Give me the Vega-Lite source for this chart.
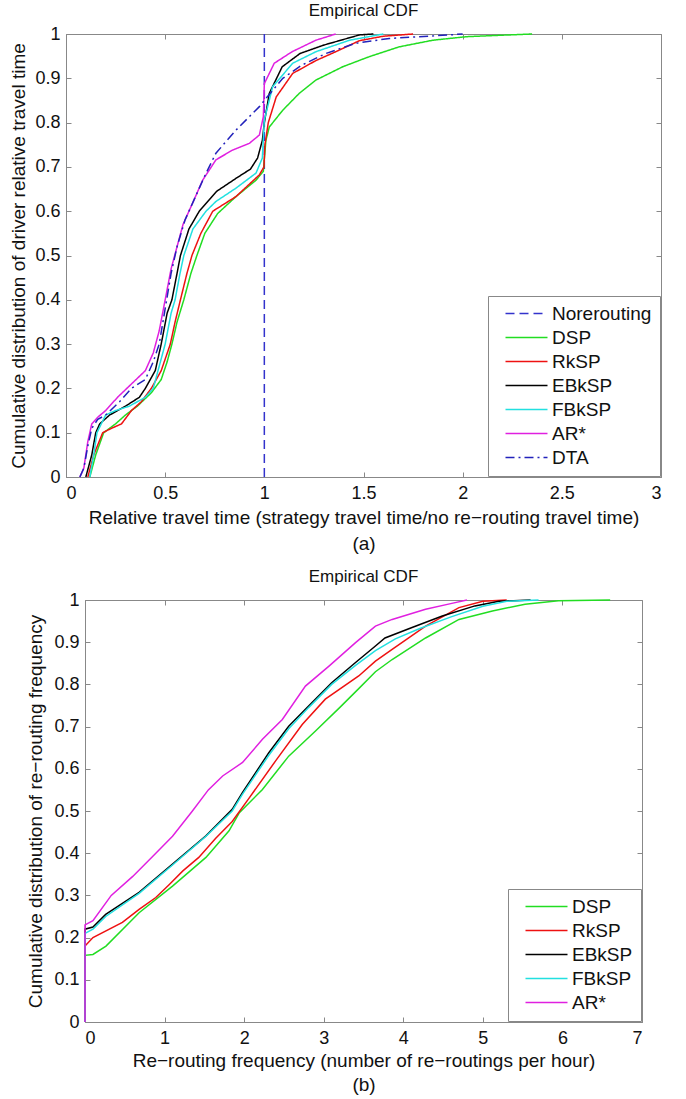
{
  "$schema": "https://vega.github.io/schema/vega-lite/v6.json",
  "background": "white",
  "padding": {"left": 9, "top": 1, "right": 5, "bottom": 3},
  "center": true,
  "spacing": 13,
  "resolve": {
    "scale": {"color": "independent", "strokeDash": "independent", "x": "independent", "y": "independent"},
    "legend": {"color": "independent", "strokeDash": "independent"}
  },
  "config": {
    "font": "Liberation Sans",
    "view": {"stroke": "#888888", "strokeWidth": 1},
    "axis": {
      "domainColor": "#888888", "tickColor": "#888888", "tickSize": -5, "grid": false,
      "labelFont": "Liberation Sans", "labelFontSize": 18, "labelColor": "#111111", "labelPadding": 11,
      "titleFont": "Liberation Sans", "titleFontSize": 19, "titleFontWeight": "normal", "titleColor": "#111111"
    },
    "title": {"font": "Liberation Sans", "fontSize": 17, "fontWeight": "normal", "color": "#111111", "frame": "group", "offset": 5},
    "legend": {
      "orient": "bottom-right", "offset": 1, "strokeColor": "#888888", "fillColor": "white", "padding": 8,
      "labelFont": "Liberation Sans", "labelFontSize": 19, "labelColor": "#111111", "labelOffset": 37,
      "symbolType": "M0,0H10.5", "symbolSize": 64, "symbolStrokeWidth": 1.5, "rowPadding": 4
    }
  },
  "vconcat": [
    {
      "width": 595, "height": 443,
      "title": {"text": "Empirical CDF"},
      "data": {"values": [
        {"s":"Norerouting","x":1,"y":0},{"s":"Norerouting","x":1,"y":1},
        {"s":"DSP","x":0.12,"y":0},{"s":"DSP","x":0.15,"y":0.05},{"s":"DSP","x":0.19,"y":0.1},{"s":"DSP","x":0.25,"y":0.12},{"s":"DSP","x":0.3,"y":0.14},{"s":"DSP","x":0.36,"y":0.16},{"s":"DSP","x":0.43,"y":0.19},{"s":"DSP","x":0.48,"y":0.22},{"s":"DSP","x":0.51,"y":0.26},{"s":"DSP","x":0.534,"y":0.3},{"s":"DSP","x":0.56,"y":0.35},{"s":"DSP","x":0.594,"y":0.4},{"s":"DSP","x":0.63,"y":0.46},{"s":"DSP","x":0.66,"y":0.5},{"s":"DSP","x":0.7,"y":0.55},{"s":"DSP","x":0.765,"y":0.595},{"s":"DSP","x":0.857,"y":0.633},{"s":"DSP","x":0.958,"y":0.67},{"s":"DSP","x":0.995,"y":0.69},{"s":"DSP","x":1.008,"y":0.76},{"s":"DSP","x":1.025,"y":0.79},{"s":"DSP","x":1.093,"y":0.828},{"s":"DSP","x":1.176,"y":0.866},{"s":"DSP","x":1.26,"y":0.896},{"s":"DSP","x":1.395,"y":0.926},{"s":"DSP","x":1.53,"y":0.949},{"s":"DSP","x":1.68,"y":0.971},{"s":"DSP","x":1.85,"y":0.986},{"s":"DSP","x":2.02,"y":0.994},{"s":"DSP","x":2.35,"y":1},
        {"s":"RkSP","x":0.11,"y":0},{"s":"RkSP","x":0.14,"y":0.05},{"s":"RkSP","x":0.185,"y":0.1},{"s":"RkSP","x":0.23,"y":0.11},{"s":"RkSP","x":0.28,"y":0.12},{"s":"RkSP","x":0.33,"y":0.15},{"s":"RkSP","x":0.38,"y":0.17},{"s":"RkSP","x":0.43,"y":0.2},{"s":"RkSP","x":0.48,"y":0.24},{"s":"RkSP","x":0.526,"y":0.3},{"s":"RkSP","x":0.55,"y":0.35},{"s":"RkSP","x":0.577,"y":0.4},{"s":"RkSP","x":0.61,"y":0.46},{"s":"RkSP","x":0.635,"y":0.5},{"s":"RkSP","x":0.68,"y":0.55},{"s":"RkSP","x":0.74,"y":0.6},{"s":"RkSP","x":0.857,"y":0.633},{"s":"RkSP","x":0.975,"y":0.682},{"s":"RkSP","x":0.998,"y":0.7},{"s":"RkSP","x":1.003,"y":0.75},{"s":"RkSP","x":1.02,"y":0.8},{"s":"RkSP","x":1.06,"y":0.858},{"s":"RkSP","x":1.143,"y":0.911},{"s":"RkSP","x":1.26,"y":0.94},{"s":"RkSP","x":1.36,"y":0.96},{"s":"RkSP","x":1.48,"y":0.985},{"s":"RkSP","x":1.6,"y":0.995},{"s":"RkSP","x":1.75,"y":1},
        {"s":"EBkSP","x":0.1,"y":0},{"s":"EBkSP","x":0.13,"y":0.05},{"s":"EBkSP","x":0.15,"y":0.1},{"s":"EBkSP","x":0.17,"y":0.12},{"s":"EBkSP","x":0.22,"y":0.14},{"s":"EBkSP","x":0.3,"y":0.16},{"s":"EBkSP","x":0.37,"y":0.18},{"s":"EBkSP","x":0.4,"y":0.2},{"s":"EBkSP","x":0.45,"y":0.24},{"s":"EBkSP","x":0.48,"y":0.3},{"s":"EBkSP","x":0.51,"y":0.37},{"s":"EBkSP","x":0.534,"y":0.4},{"s":"EBkSP","x":0.56,"y":0.46},{"s":"EBkSP","x":0.577,"y":0.5},{"s":"EBkSP","x":0.62,"y":0.56},{"s":"EBkSP","x":0.672,"y":0.6},{"s":"EBkSP","x":0.76,"y":0.645},{"s":"EBkSP","x":0.86,"y":0.675},{"s":"EBkSP","x":0.93,"y":0.695},{"s":"EBkSP","x":0.966,"y":0.72},{"s":"EBkSP","x":0.99,"y":0.76},{"s":"EBkSP","x":1,"y":0.8},{"s":"EBkSP","x":1.025,"y":0.866},{"s":"EBkSP","x":1.09,"y":0.926},{"s":"EBkSP","x":1.18,"y":0.956},{"s":"EBkSP","x":1.3,"y":0.975},{"s":"EBkSP","x":1.48,"y":0.998},{"s":"EBkSP","x":1.55,"y":1},
        {"s":"FBkSP","x":0.12,"y":0},{"s":"FBkSP","x":0.14,"y":0.05},{"s":"FBkSP","x":0.156,"y":0.1},{"s":"FBkSP","x":0.2,"y":0.14},{"s":"FBkSP","x":0.25,"y":0.15},{"s":"FBkSP","x":0.32,"y":0.16},{"s":"FBkSP","x":0.4,"y":0.18},{"s":"FBkSP","x":0.44,"y":0.2},{"s":"FBkSP","x":0.47,"y":0.25},{"s":"FBkSP","x":0.5,"y":0.3},{"s":"FBkSP","x":0.53,"y":0.37},{"s":"FBkSP","x":0.55,"y":0.4},{"s":"FBkSP","x":0.575,"y":0.46},{"s":"FBkSP","x":0.594,"y":0.5},{"s":"FBkSP","x":0.64,"y":0.56},{"s":"FBkSP","x":0.706,"y":0.6},{"s":"FBkSP","x":0.756,"y":0.622},{"s":"FBkSP","x":0.857,"y":0.652},{"s":"FBkSP","x":0.958,"y":0.686},{"s":"FBkSP","x":0.99,"y":0.72},{"s":"FBkSP","x":1,"y":0.806},{"s":"FBkSP","x":1.042,"y":0.881},{"s":"FBkSP","x":1.143,"y":0.934},{"s":"FBkSP","x":1.26,"y":0.96},{"s":"FBkSP","x":1.43,"y":0.986},{"s":"FBkSP","x":1.6,"y":1},
        {"s":"AR*","x":0.07,"y":0},{"s":"AR*","x":0.09,"y":0.02},{"s":"AR*","x":0.11,"y":0.08},{"s":"AR*","x":0.13,"y":0.12},{"s":"AR*","x":0.16,"y":0.135},{"s":"AR*","x":0.2,"y":0.15},{"s":"AR*","x":0.26,"y":0.18},{"s":"AR*","x":0.33,"y":0.21},{"s":"AR*","x":0.4,"y":0.24},{"s":"AR*","x":0.44,"y":0.28},{"s":"AR*","x":0.47,"y":0.33},{"s":"AR*","x":0.5,"y":0.4},{"s":"AR*","x":0.53,"y":0.47},{"s":"AR*","x":0.56,"y":0.52},{"s":"AR*","x":0.59,"y":0.57},{"s":"AR*","x":0.64,"y":0.62},{"s":"AR*","x":0.689,"y":0.67},{"s":"AR*","x":0.756,"y":0.716},{"s":"AR*","x":0.84,"y":0.738},{"s":"AR*","x":0.924,"y":0.753},{"s":"AR*","x":0.975,"y":0.772},{"s":"AR*","x":0.995,"y":0.813},{"s":"AR*","x":1,"y":0.888},{"s":"AR*","x":1.05,"y":0.934},{"s":"AR*","x":1.14,"y":0.96},{"s":"AR*","x":1.26,"y":0.986},{"s":"AR*","x":1.36,"y":1},
        {"s":"DTA","x":0.07,"y":0},{"s":"DTA","x":0.09,"y":0.02},{"s":"DTA","x":0.11,"y":0.07},{"s":"DTA","x":0.13,"y":0.11},{"s":"DTA","x":0.16,"y":0.13},{"s":"DTA","x":0.2,"y":0.14},{"s":"DTA","x":0.27,"y":0.17},{"s":"DTA","x":0.33,"y":0.2},{"s":"DTA","x":0.4,"y":0.22},{"s":"DTA","x":0.44,"y":0.26},{"s":"DTA","x":0.47,"y":0.3},{"s":"DTA","x":0.5,"y":0.38},{"s":"DTA","x":0.53,"y":0.46},{"s":"DTA","x":0.56,"y":0.52},{"s":"DTA","x":0.6,"y":0.58},{"s":"DTA","x":0.65,"y":0.63},{"s":"DTA","x":0.7,"y":0.68},{"s":"DTA","x":0.756,"y":0.731},{"s":"DTA","x":0.857,"y":0.783},{"s":"DTA","x":0.975,"y":0.836},{"s":"DTA","x":1,"y":0.85},{"s":"DTA","x":1.093,"y":0.9},{"s":"DTA","x":1.19,"y":0.93},{"s":"DTA","x":1.31,"y":0.956},{"s":"DTA","x":1.46,"y":0.979},{"s":"DTA","x":1.63,"y":0.99},{"s":"DTA","x":1.83,"y":0.995},{"s":"DTA","x":2,"y":1}
      ]},
      "layer": [
        {
          "mark": {"type": "line", "strokeWidth": 1.5},
          "encoding": {
            "x": {"field": "x", "type": "quantitative", "scale": {"domain": [0, 3]},
                  "axis": {"orient": "bottom", "values": [0, 0.5, 1, 1.5, 2, 2.5, 3], "format": "~g", "labelPadding": 12,
                           "title": ["Relative travel time (strategy travel time/no re−routing travel time)", "(a)"], "titleLineHeight": 26, "titlePadding": 6}},
            "y": {"field": "y", "type": "quantitative", "scale": {"domain": [0, 1]},
                  "axis": {"orient": "left", "values": [0, 0.1, 0.2, 0.3, 0.4, 0.5, 0.6, 0.7, 0.8, 0.9, 1], "format": "~g",
                           "title": "Cumulative distribution of driver relative travel time", "titlePadding": 6}},
            "color": {"field": "s", "type": "nominal",
                      "scale": {"domain": ["Norerouting", "DSP", "RkSP", "EBkSP", "FBkSP", "AR*", "DTA"],
                                "range": ["#3333cc", "#22dd22", "#ee1111", "#000000", "#22e0e0", "#e020e0", "#2222bb"]},
                      "legend": {"title": null}},
            "strokeDash": {"field": "s", "type": "nominal",
                      "scale": {"domain": ["Norerouting", "DSP", "RkSP", "EBkSP", "FBkSP", "AR*", "DTA"],
                                "range": [[9, 5], [1, 0], [1, 0], [1, 0], [1, 0], [1, 0], [9, 4, 2, 4]]},
                      "legend": {"title": null}},
            "order": {"value": null}
          }
        },
        {
          "mark": {"type": "line", "opacity": 0},
          "encoding": {
            "x": {"field": "x", "type": "quantitative", "scale": {"domain": [0, 3]},
                  "axis": {"orient": "top", "values": [0, 0.5, 1, 1.5, 2, 2.5, 3], "labels": false, "title": null, "domain": false}},
            "y": {"field": "y", "type": "quantitative", "scale": {"domain": [0, 1]},
                  "axis": {"orient": "right", "values": [0, 0.1, 0.2, 0.3, 0.4, 0.5, 0.6, 0.7, 0.8, 0.9, 1], "labels": false, "title": null, "domain": false}},
            "detail": {"field": "s"},
            "order": {"value": null}
          }
        }
      ],
      "resolve": {"axis": {"x": "independent", "y": "independent"}}
    },
    {
      "width": 557, "height": 422,
      "title": {"text": "Empirical CDF"},
      "data": {"values": [
        {"s":"DSP","x":0,"y":0},{"s":"DSP","x":0,"y":0.158},{"s":"DSP","x":0.1,"y":0.16},{"s":"DSP","x":0.264,"y":0.18},{"s":"DSP","x":0.68,"y":0.259},{"s":"DSP","x":1.1,"y":0.322},{"s":"DSP","x":1.52,"y":0.39},{"s":"DSP","x":1.81,"y":0.453},{"s":"DSP","x":1.94,"y":0.496},{"s":"DSP","x":2.23,"y":0.551},{"s":"DSP","x":2.56,"y":0.63},{"s":"DSP","x":2.9,"y":0.69},{"s":"DSP","x":3.2,"y":0.745},{"s":"DSP","x":3.44,"y":0.79},{"s":"DSP","x":3.65,"y":0.83},{"s":"DSP","x":3.86,"y":0.859},{"s":"DSP","x":4.28,"y":0.91},{"s":"DSP","x":4.7,"y":0.954},{"s":"DSP","x":5.12,"y":0.974},{"s":"DSP","x":5.53,"y":0.99},{"s":"DSP","x":5.95,"y":0.998},{"s":"DSP","x":6.6,"y":1},
        {"s":"RkSP","x":0,"y":0},{"s":"RkSP","x":0,"y":0.18},{"s":"RkSP","x":0.1,"y":0.2},{"s":"RkSP","x":0.47,"y":0.236},{"s":"RkSP","x":0.68,"y":0.267},{"s":"RkSP","x":0.89,"y":0.295},{"s":"RkSP","x":1.06,"y":0.326},{"s":"RkSP","x":1.23,"y":0.358},{"s":"RkSP","x":1.43,"y":0.39},{"s":"RkSP","x":1.64,"y":0.435},{"s":"RkSP","x":1.85,"y":0.475},{"s":"RkSP","x":2.06,"y":0.53},{"s":"RkSP","x":2.4,"y":0.62},{"s":"RkSP","x":2.73,"y":0.705},{"s":"RkSP","x":3.02,"y":0.765},{"s":"RkSP","x":3.44,"y":0.82},{"s":"RkSP","x":3.65,"y":0.855},{"s":"RkSP","x":3.86,"y":0.883},{"s":"RkSP","x":4.28,"y":0.938},{"s":"RkSP","x":4.7,"y":0.982},{"s":"RkSP","x":5,"y":0.997},{"s":"RkSP","x":5.3,"y":1},
        {"s":"EBkSP","x":0,"y":0},{"s":"EBkSP","x":0,"y":0.22},{"s":"EBkSP","x":0.1,"y":0.225},{"s":"EBkSP","x":0.26,"y":0.255},{"s":"EBkSP","x":0.68,"y":0.307},{"s":"EBkSP","x":1.1,"y":0.374},{"s":"EBkSP","x":1.52,"y":0.441},{"s":"EBkSP","x":1.85,"y":0.504},{"s":"EBkSP","x":1.98,"y":0.544},{"s":"EBkSP","x":2.31,"y":0.638},{"s":"EBkSP","x":2.56,"y":0.701},{"s":"EBkSP","x":2.81,"y":0.749},{"s":"EBkSP","x":3.1,"y":0.804},{"s":"EBkSP","x":3.4,"y":0.852},{"s":"EBkSP","x":3.65,"y":0.891},{"s":"EBkSP","x":3.77,"y":0.91},{"s":"EBkSP","x":4.11,"y":0.935},{"s":"EBkSP","x":4.49,"y":0.962},{"s":"EBkSP","x":4.9,"y":0.986},{"s":"EBkSP","x":5.2,"y":0.997},{"s":"EBkSP","x":5.6,"y":1},
        {"s":"FBkSP","x":0,"y":0},{"s":"FBkSP","x":0,"y":0.21},{"s":"FBkSP","x":0.1,"y":0.22},{"s":"FBkSP","x":0.26,"y":0.25},{"s":"FBkSP","x":0.68,"y":0.305},{"s":"FBkSP","x":1.1,"y":0.372},{"s":"FBkSP","x":1.52,"y":0.44},{"s":"FBkSP","x":1.85,"y":0.5},{"s":"FBkSP","x":1.98,"y":0.54},{"s":"FBkSP","x":2.31,"y":0.632},{"s":"FBkSP","x":2.56,"y":0.695},{"s":"FBkSP","x":2.81,"y":0.745},{"s":"FBkSP","x":3.1,"y":0.8},{"s":"FBkSP","x":3.4,"y":0.845},{"s":"FBkSP","x":3.65,"y":0.88},{"s":"FBkSP","x":3.9,"y":0.908},{"s":"FBkSP","x":4.2,"y":0.932},{"s":"FBkSP","x":4.6,"y":0.96},{"s":"FBkSP","x":5,"y":0.985},{"s":"FBkSP","x":5.3,"y":0.997},{"s":"FBkSP","x":5.7,"y":1},
        {"s":"AR*","x":0,"y":0},{"s":"AR*","x":0,"y":0.23},{"s":"AR*","x":0.1,"y":0.24},{"s":"AR*","x":0.33,"y":0.3},{"s":"AR*","x":0.6,"y":0.345},{"s":"AR*","x":0.89,"y":0.4},{"s":"AR*","x":1.1,"y":0.44},{"s":"AR*","x":1.35,"y":0.5},{"s":"AR*","x":1.55,"y":0.55},{"s":"AR*","x":1.73,"y":0.583},{"s":"AR*","x":1.98,"y":0.615},{"s":"AR*","x":2.23,"y":0.67},{"s":"AR*","x":2.48,"y":0.717},{"s":"AR*","x":2.77,"y":0.796},{"s":"AR*","x":3.07,"y":0.844},{"s":"AR*","x":3.4,"y":0.899},{"s":"AR*","x":3.65,"y":0.938},{"s":"AR*","x":3.86,"y":0.954},{"s":"AR*","x":4.28,"y":0.978},{"s":"AR*","x":4.61,"y":0.992},{"s":"AR*","x":4.8,"y":1}
      ]},
      "layer": [
        {
          "mark": {"type": "line", "strokeWidth": 1.5},
          "encoding": {
            "x": {"field": "x", "type": "quantitative", "scale": {"domain": [0, 7]},
                  "axis": {"orient": "bottom", "values": [0, 1, 2, 3, 4, 5, 6, 7], "format": "~g", "labelPadding": 12,
                           "title": ["Re−routing frequency (number of re−routings per hour)", "(b)"], "titleLineHeight": 24, "titlePadding": 4}},
            "y": {"field": "y", "type": "quantitative", "scale": {"domain": [0, 1]},
                  "axis": {"orient": "left", "values": [0, 0.1, 0.2, 0.3, 0.4, 0.5, 0.6, 0.7, 0.8, 0.9, 1], "format": "~g",
                           "title": "Cumulative distribution of re−routing frequency", "titlePadding": 8}},
            "color": {"field": "s", "type": "nominal",
                      "scale": {"domain": ["DSP", "RkSP", "EBkSP", "FBkSP", "AR*"],
                                "range": ["#22dd22", "#ee1111", "#000000", "#22e0e0", "#e020e0"]},
                      "legend": {"title": null}},
            "order": {"value": null}
          }
        },
        {
          "mark": {"type": "line", "opacity": 0},
          "encoding": {
            "x": {"field": "x", "type": "quantitative", "scale": {"domain": [0, 7]},
                  "axis": {"orient": "top", "values": [0, 1, 2, 3, 4, 5, 6, 7], "labels": false, "title": null, "domain": false}},
            "y": {"field": "y", "type": "quantitative", "scale": {"domain": [0, 1]},
                  "axis": {"orient": "right", "values": [0, 0.1, 0.2, 0.3, 0.4, 0.5, 0.6, 0.7, 0.8, 0.9, 1], "labels": false, "title": null, "domain": false}},
            "detail": {"field": "s"},
            "order": {"value": null}
          }
        }
      ],
      "resolve": {"axis": {"x": "independent", "y": "independent"}}
    }
  ]
}
